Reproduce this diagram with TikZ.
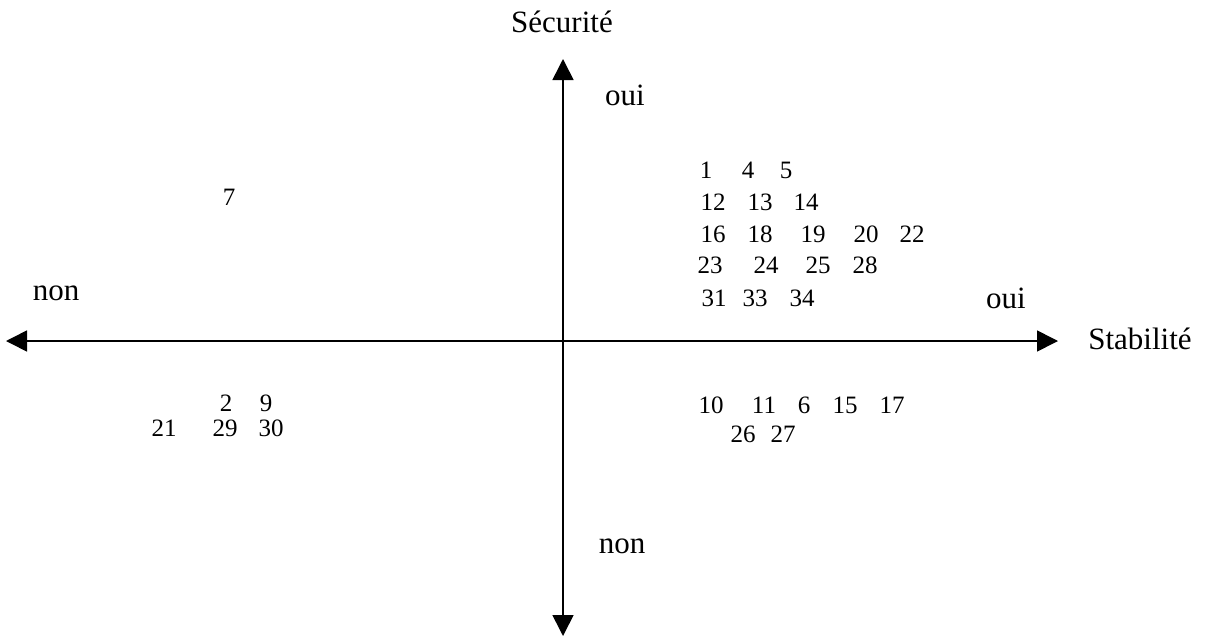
\documentclass[tikz,border=0pt]{standalone}
\usepackage{fontspec}
\setmainfont{Liberation Serif}
\usetikzlibrary{arrows.meta}
\begin{document}
\begin{tikzpicture}[x=1pt,y=-1pt,
  axis/.style={line width=1.6pt,
    {Triangle[length=21pt,width=21pt]}-{Triangle[length=21pt,width=21pt]}},
  lbl/.style={font=\fontsize{31}{31}\selectfont,inner sep=0pt,anchor=base},
  num/.style={font=\fontsize{25}{25}\selectfont,inner sep=0pt,anchor=base}]
\useasboundingbox (0,0) rectangle (1206,637);
% axis ends
\coordinate (W) at (6,341);
\coordinate (E) at (1058,341);
\coordinate (N) at (563,59);
\coordinate (S) at (563,636);
\draw[axis] (W) -- (E);
\draw[axis] (N) -- (S);
% axis labels
\node[lbl] (secu) at (562,32) {Sécurité};
\node[lbl] (stab) at (1140,349) {Stabilité};
\node[lbl] (ouiN) at (625,105) {oui};
\node[lbl] (nonS) at (622,553) {non};
\node[lbl] (nonW) at (56,300) {non};
\node[lbl] (ouiE) at (1006,308) {oui};
% upper left
\node[num] (n7) at (229,205) {7};
% upper right
\node[num] (n1) at (706,178) {1};
\node[num] (n4) at (748,178) {4};
\node[num] (n5) at (786,178) {5};
\node[num] (n12) at (713,210) {12};
\node[num] (n13) at (760,210) {13};
\node[num] (n14) at (806,210) {14};
\node[num] (n16) at (713,242) {16};
\node[num] (n18) at (760,242) {18};
\node[num] (n19) at (813,242) {19};
\node[num] (n20) at (866,242) {20};
\node[num] (n22) at (912,242) {22};
\node[num] (n23) at (710,273) {23};
\node[num] (n24) at (766,273) {24};
\node[num] (n25) at (818,273) {25};
\node[num] (n28) at (865,273) {28};
\node[num] (n31) at (714,306) {31};
\node[num] (n33) at (755,306) {33};
\node[num] (n34) at (802,306) {34};
% lower right
\node[num] (n10) at (711,413) {10};
\node[num] (n11) at (764,413) {11};
\node[num] (n6) at (804,413) {6};
\node[num] (n15) at (845,413) {15};
\node[num] (n17) at (892,413) {17};
\node[num] (n26) at (743,442) {26};
\node[num] (n27) at (783,442) {27};
% lower left
\node[num] (n2) at (226,411) {2};
\node[num] (n9) at (266,411) {9};
\node[num] (n21) at (164,436) {21};
\node[num] (n29) at (225,436) {29};
\node[num] (n30) at (271,436) {30};
\end{tikzpicture}
\end{document}
